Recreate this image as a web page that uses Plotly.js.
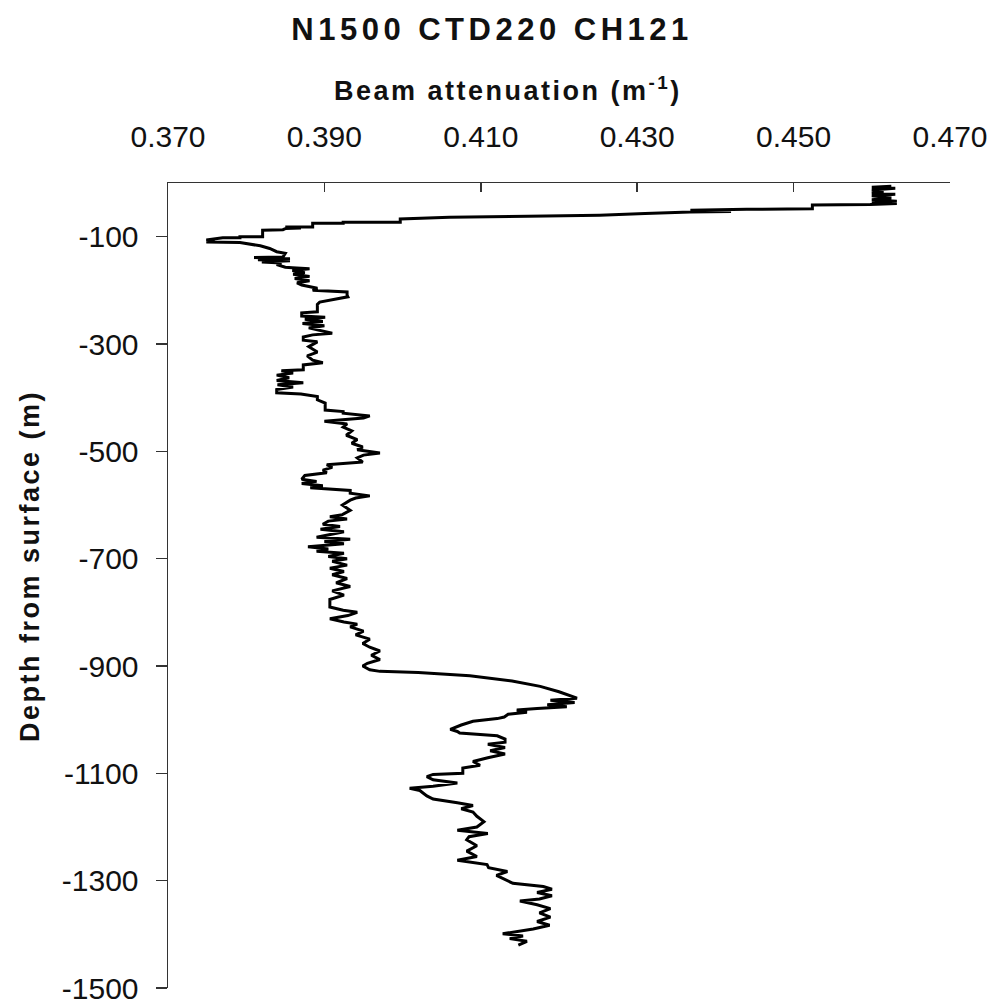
<!DOCTYPE html>
<html>
<head>
<meta charset="utf-8">
<script src="https://cdn.plot.ly/plotly-3.0.1.min.js"></script>
<style>
  html, body { margin: 0; padding: 0; background: #fff; }
  #chart { width: 990px; height: 1004px; }
  .gtitle { letter-spacing: 4.5px; }
  .annotation-text { letter-spacing: 2.5px; }
</style>
</head>
<body>
<div id="chart"></div>
<script>
// Beam attenuation (m^-1) read from the profile, top to bottom
const attenuation = [
  0.4625, 0.4600, 0.4630, 0.4600, 0.4615, 0.4600, 0.4630, 0.4600, 0.4625, 0.4600,
  0.4632, 0.4600, 0.4632, 0.4598, 0.4524, 0.4524, 0.4440, 0.4368, 0.4420, 0.4368,
  0.4310, 0.4252, 0.4160, 0.4060, 0.3997, 0.3997, 0.3924, 0.3924, 0.3885, 0.3885,
  0.3850, 0.3870, 0.3850, 0.3847, 0.3821, 0.3821, 0.3792, 0.3792, 0.3770, 0.3749,
  0.3760, 0.3749, 0.3792, 0.3800, 0.3818, 0.3830, 0.3839, 0.3850, 0.3847, 0.3810,
  0.3856, 0.3815, 0.3856, 0.3820, 0.3845, 0.3839, 0.3850, 0.3859, 0.3881, 0.3859,
  0.3875, 0.3860, 0.3881, 0.3862, 0.3881, 0.3865, 0.3871, 0.3891, 0.3885, 0.3929,
  0.3929, 0.3930, 0.3894, 0.3891, 0.3891, 0.3871, 0.3871, 0.3901, 0.3875, 0.3898,
  0.3872, 0.3900, 0.3880, 0.3910, 0.3885, 0.3873, 0.3873, 0.3891, 0.3880, 0.3891,
  0.3878, 0.3885, 0.3898, 0.3873, 0.3873, 0.3845, 0.3860, 0.3839, 0.3855, 0.3839,
  0.3873, 0.3840, 0.3860, 0.3839, 0.3839, 0.3870, 0.3891, 0.3891, 0.3901, 0.3901,
  0.3924, 0.3924, 0.3958, 0.3950, 0.3900, 0.3929, 0.3924, 0.3935, 0.3928, 0.3942,
  0.3935, 0.3949, 0.3942, 0.3971, 0.3950, 0.3942, 0.3949, 0.3903, 0.3910, 0.3898,
  0.3903, 0.3875, 0.3871, 0.3890, 0.3871, 0.3898, 0.3882, 0.3933, 0.3933, 0.3958,
  0.3940, 0.3933, 0.3923, 0.3933, 0.3923, 0.3907, 0.3929, 0.3905, 0.3898, 0.3920,
  0.3895, 0.3925, 0.3905, 0.3890, 0.3933, 0.3900, 0.3925, 0.3879, 0.3905, 0.3890,
  0.3925, 0.3905, 0.3929, 0.3910, 0.3929, 0.3907, 0.3925, 0.3910, 0.3929, 0.3915,
  0.3933, 0.3910, 0.3925, 0.3907, 0.3907, 0.3924, 0.3942, 0.3930, 0.3907, 0.3925,
  0.3942, 0.3933, 0.3950, 0.3940, 0.3958, 0.3949, 0.3958, 0.3971, 0.3960, 0.3971,
  0.3955, 0.3949, 0.3958, 0.3971, 0.4020, 0.4086, 0.4140, 0.4176, 0.4200, 0.4223,
  0.4189, 0.4220, 0.4185, 0.4210, 0.4172, 0.4146, 0.4159, 0.4135, 0.4130, 0.4121,
  0.4090, 0.4075, 0.4061, 0.4070, 0.4073, 0.4121, 0.4131, 0.4131, 0.4109, 0.4131,
  0.4112, 0.4131, 0.4109, 0.4090, 0.4099, 0.4077, 0.4077, 0.4039, 0.4031, 0.4039,
  0.4070, 0.4039, 0.4009, 0.4022, 0.4031, 0.4039, 0.4070, 0.4090, 0.4075, 0.4090,
  0.4095, 0.4104, 0.4095, 0.4070, 0.4109, 0.4085, 0.4082, 0.4095, 0.4082, 0.4095,
  0.4070, 0.4108, 0.4110, 0.4134, 0.4120, 0.4134, 0.4141, 0.4180, 0.4191, 0.4172,
  0.4191, 0.4175, 0.4150, 0.4172, 0.4189, 0.4175, 0.4189, 0.4172, 0.4188, 0.4167,
  0.4146, 0.4128, 0.4154, 0.4137, 0.4159, 0.4148
];

// Depth from surface (m), matching each attenuation value
const depth = [
  -6, -8, -10, -13, -16, -19, -21, -24, -28, -31,
  -34, -36, -38, -40, -41, -48, -49, -51, -53, -54,
  -57, -60, -62, -64, -67, -73, -73, -75, -75, -82,
  -82, -84, -85, -87, -88, -100, -100, -102, -102, -106,
  -108, -110, -111, -113, -117, -122, -128, -131, -138, -139,
  -141, -143, -145, -147, -149, -152, -157, -158, -160, -163,
  -167, -170, -174, -178, -182, -186, -190, -196, -200, -203,
  -209, -212, -222, -226, -240, -242, -248, -250, -254, -258,
  -262, -266, -270, -280, -283, -287, -293, -296, -305, -315,
  -322, -330, -335, -339, -348, -350, -354, -358, -363, -368,
  -372, -376, -380, -385, -391, -393, -398, -404, -410, -423,
  -426, -429, -434, -438, -444, -449, -455, -462, -470, -478,
  -485, -492, -497, -503, -507, -512, -520, -525, -530, -535,
  -540, -545, -552, -556, -560, -564, -568, -573, -578, -583,
  -587, -591, -600, -610, -618, -622, -626, -630, -636, -640,
  -645, -650, -655, -660, -664, -668, -672, -678, -682, -686,
  -690, -696, -700, -705, -712, -718, -724, -730, -737, -745,
  -752, -760, -768, -776, -790, -796, -800, -806, -812, -818,
  -822, -827, -835, -842, -850, -858, -865, -872, -880, -888,
  -895, -900, -907, -910, -912, -918, -928, -938, -948, -960,
  -964, -968, -972, -976, -979, -982, -986, -990, -995, -998,
  -1003, -1010, -1018, -1022, -1025, -1030, -1036, -1042, -1046, -1052,
  -1058, -1064, -1071, -1078, -1085, -1090, -1100, -1102, -1106, -1112,
  -1118, -1124, -1128, -1132, -1142, -1148, -1155, -1160, -1166, -1172,
  -1180, -1190, -1200, -1206, -1212, -1218, -1224, -1235, -1245, -1255,
  -1262, -1270, -1276, -1283, -1290, -1299, -1305, -1311, -1316, -1322,
  -1328, -1334, -1338, -1345, -1352, -1360, -1368, -1376, -1383, -1390,
  -1395, -1399, -1403, -1408, -1413, -1420
];

const xTickVals = [0.370, 0.390, 0.410, 0.430, 0.450, 0.470];
const xTickText = ["0.370", "0.390", "0.410", "0.430", "0.450", "0.470"];
const yTickVals = [-100, -300, -500, -700, -900, -1100, -1300, -1500];
const yTickText = ["-100", "-300", "-500", "-700", "-900", "-1100", "-1300", "-1500"];

const chartTitle = "N1500 CTD220 CH121";
const xTitle = "Beam attenuation (m<sup>-1</sup>)";
const yTitle = "Depth from surface (m)";

const FONT = "Arial, 'Liberation Sans', Helvetica, sans-serif";

const trace = {
  type: "scatter",
  mode: "lines",
  x: attenuation,
  y: depth,
  line: { color: "#000", width: 3, shape: "linear" },
  hoverinfo: "skip",
  showlegend: false
};

const layout = {
  width: 990,
  height: 1004,
  paper_bgcolor: "#fff",
  plot_bgcolor: "#fff",
  margin: { l: 168, r: 40, t: 183, b: 16, pad: 0 },
  font: { family: FONT, color: "#111" },
  title: {
    text: chartTitle,
    font: { family: FONT, size: 31, weight: 700, color: "#111" },
    x: 0.497, xref: "container", xanchor: "center",
    y: 0.971, yref: "container", yanchor: "middle"
  },
  xaxis: {
    side: "top",
    range: [0.370, 0.470],
    tickmode: "array",
    tickvals: xTickVals,
    ticktext: xTickText,
    ticks: "inside",
    ticklen: 9,
    tickwidth: 1.5,
    tickcolor: "#333",
    showline: true,
    linecolor: "#333",
    linewidth: 1.5,
    mirror: false,
    showgrid: false,
    zeroline: false,
    tickfont: { family: FONT, size: 30, color: "#111" },
    ticklabelstandoff: 23,
    ticklabeloverflow: "allow",
    automargin: false,
    fixedrange: true
  },
  yaxis: {
    range: [-1500, 0],
    tickmode: "array",
    tickvals: yTickVals,
    ticktext: yTickText,
    ticks: "outside",
    ticklen: 11,
    tickwidth: 1.5,
    tickcolor: "#333",
    showline: true,
    linecolor: "#333",
    linewidth: 1.5,
    mirror: false,
    showgrid: false,
    zeroline: false,
    tickfont: { family: FONT, size: 30, color: "#111" },
    ticklabelstandoff: 11,
    ticklabeloverflow: "allow",
    automargin: false,
    fixedrange: true
  },
  annotations: [
    {
      text: xTitle,
      xref: "paper", yref: "paper",
      x: (508 - 168) / 782, y: 1 + (183 - 89) / 805,
      xanchor: "center", yanchor: "middle",
      showarrow: false,
      font: { family: FONT, size: 27, weight: 700, color: "#111" }
    },
    {
      text: yTitle,
      xref: "paper", yref: "paper",
      x: (30 - 168) / 782, y: 1 - (566 - 183) / 805,
      xanchor: "center", yanchor: "middle",
      textangle: -90,
      showarrow: false,
      font: { family: FONT, size: 27, weight: 700, color: "#111" }
    }
  ]
};

Plotly.newPlot("chart", [trace], layout, { staticPlot: true, displayModeBar: false });
</script>
</body>
</html>
